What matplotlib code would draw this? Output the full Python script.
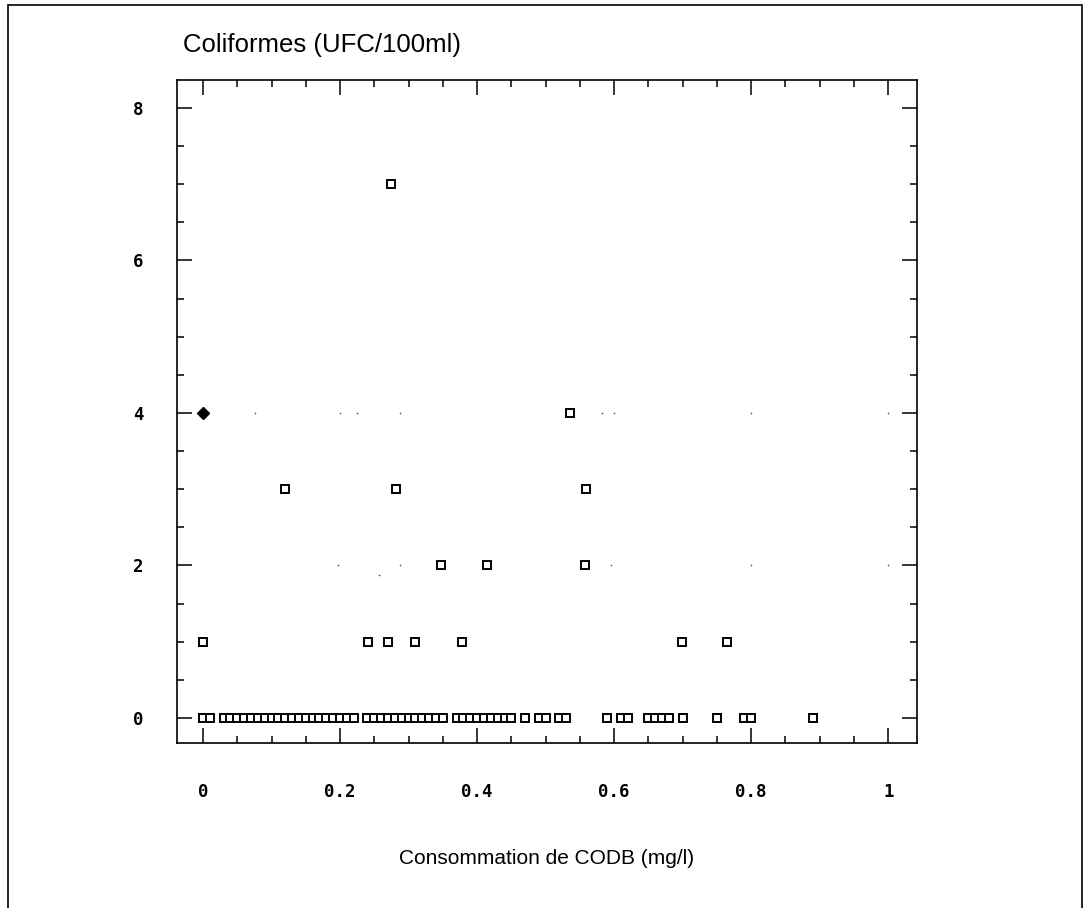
import matplotlib
matplotlib.use("Agg")
import matplotlib.pyplot as plt
from matplotlib.patches import Rectangle
from matplotlib.ticker import MultipleLocator, FixedLocator

# points at y = 0 (CODB consumption, mg/l)
zero_x = [0.0, 0.01, 0.03, 0.04, 0.05, 0.06, 0.07, 0.08, 0.09, 0.10, 0.11,
          0.12, 0.13, 0.14, 0.15, 0.16, 0.17, 0.18, 0.19, 0.20, 0.21, 0.22,
          0.24, 0.25, 0.26, 0.27, 0.28, 0.29, 0.30, 0.31, 0.32, 0.33, 0.34,
          0.35, 0.37, 0.38, 0.39, 0.40, 0.41, 0.42, 0.43, 0.44, 0.45,
          0.47, 0.49, 0.50, 0.52, 0.53, 0.59, 0.61, 0.62, 0.65, 0.66, 0.67,
          0.68, 0.70, 0.75, 0.79, 0.80, 0.89]

# points with coliforms > 0
pos_x = [0.274, 0.536, 0.12, 0.282, 0.559, 0.347, 0.415, 0.558,
         0.0, 0.241, 0.27, 0.31, 0.378, 0.699, 0.764]
pos_y = [7, 4, 3, 3, 3, 2, 2, 2, 1, 1, 1, 1, 1, 1, 1]

# several overlapping samples (drawn as a solid mark)
dense_x = [0.0]
dense_y = [4]

# faint specks on the print
speck_x = [0.076, 0.2, 0.225, 0.288, 0.582, 0.6, 0.8, 1.0,
           0.197, 0.257, 0.288, 0.596, 0.8, 1.0]
speck_y = [4, 4, 4, 4, 4, 4, 4, 4, 2, 1.87, 2, 2, 2, 2]

fig = plt.figure(figsize=(10.85, 9.08), dpi=100)
ax = fig.add_axes([0.1631, 0.1817, 0.6821, 0.7302])

ax.plot(zero_x, [0] * len(zero_x), ls="none", marker="s", ms=5.2,
        mfc="white", mec="black", mew=1.4)
ax.plot(pos_x, pos_y, ls="none", marker="s", ms=5.2,
        mfc="white", mec="black", mew=1.4)
ax.plot(dense_x, dense_y, ls="none", marker="D", ms=6,
        mfc="black", mec="black")
ax.plot(speck_x, speck_y, ls="none", marker="o", ms=1.2,
        mfc="#555555", mec="none")

ax.set_xlim(-0.038, 1.042)
ax.set_ylim(-0.328, 8.367)

ax.xaxis.set_major_locator(FixedLocator([0, 0.2, 0.4, 0.6, 0.8, 1.0]))
ax.xaxis.set_minor_locator(MultipleLocator(0.05))
ax.yaxis.set_major_locator(FixedLocator([0, 2, 4, 6, 8]))
ax.yaxis.set_minor_locator(MultipleLocator(0.5))
ax.set_xticklabels(["0", "0.2", "0.4", "0.6", "0.8", "1"])
ax.set_yticklabels(["0", "2", "4", "6", "8"])

ax.tick_params(which="both", direction="in", top=True, right=True,
               color="black", width=1.1)
ax.tick_params(which="major", length=11)
ax.tick_params(which="minor", length=5)
ax.tick_params(axis="x", which="major", pad=29)
ax.tick_params(axis="y", which="major", pad=24)
for lab in ax.get_xticklabels() + ax.get_yticklabels():
    lab.set_fontfamily("DejaVu Sans Mono")
    lab.set_fontweight("bold")
    lab.set_fontsize(12.5)

for sp in ax.spines.values():
    sp.set_linewidth(1.2)

fig.text(183 / 1085, 1 - 45 / 908, "Coliformes (UFC/100ml)",
         family="Liberation Sans", fontsize=18.5, ha="left", va="center")
fig.text(547 / 1085, 1 - 858 / 908, "Consommation de CODB (mg/l)",
         family="Liberation Sans", fontsize=15, ha="center", va="center")

fig.patches.append(Rectangle((0.007, -0.01), 0.99, 1.004, transform=fig.transFigure,
                             fill=False, ec="black", lw=1.2))

fig.savefig("out.png", dpi=100)
